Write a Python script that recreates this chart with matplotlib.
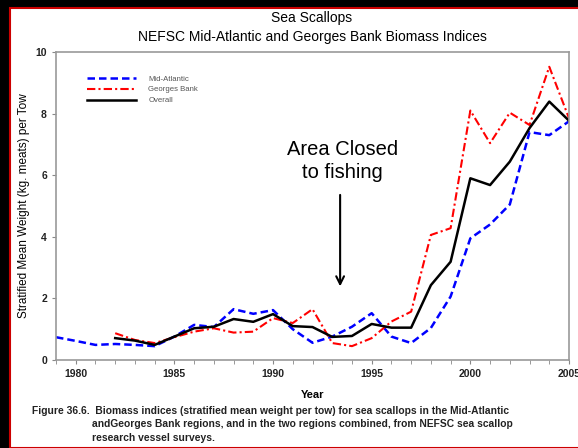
import matplotlib
matplotlib.use('Agg')
import matplotlib.pyplot as plt
from matplotlib.patches import Rectangle
import numpy as np

plt.rcParams['font.family'] = ['Liberation Sans', 'DejaVu Sans']

# valores
anos_ma = list(range(1979, 2006))
mid_atlantic = [0.74, 0.62, 0.49, 0.52, 0.49, 0.45, 0.76, 1.14, 1.07, 1.65, 1.50, 1.62,
                1.00, 0.56, 0.76, 1.08, 1.52, 0.76, 0.55, 1.04, 2.06, 3.95, 4.40, 5.05,
                7.40, 7.30, 7.75]
anos = list(range(1982, 2006))
georges_bank = [0.87, 0.65, 0.55, 0.74, 0.92, 1.03, 0.89, 0.92, 1.36, 1.20, 1.65, 0.55,
                0.45, 0.71, 1.25, 1.57, 4.06, 4.28, 8.10, 7.04, 8.03, 7.63, 9.52, 7.85]
overall = [0.71, 0.63, 0.49, 0.76, 1.03, 1.08, 1.33, 1.24, 1.49, 1.10, 1.07, 0.75,
           0.78, 1.17, 1.05, 1.05, 2.43, 3.19, 5.90, 5.68, 6.44, 7.53, 8.39, 7.77]

fig = plt.figure(figsize=(5.78, 4.48), dpi=100, facecolor='black')
# moldura branca com linha vermelha (atras de tudo)
fig.patches.append(Rectangle((10/578, 0), 1, 1 - 8/448, transform=fig.transFigure,
                             facecolor='white', edgecolor='#cc0000', linewidth=1.5,
                             zorder=-10))

ax = fig.add_axes([56/578, 1 - 360/448, 513/578, 308/448])
ax.plot(anos_ma, mid_atlantic, color='#0000ff', linestyle=(0, (3, 1.6)), linewidth=1.8,
        label='Mid-Atlantic')
ax.plot(anos, georges_bank, color='#ff0000', linestyle=(0, (4, 1.5, 1, 1.5)), linewidth=1.5,
        label='Georges Bank')
ax.plot(anos, overall, color='black', linewidth=1.8, label='Overall')

ax.set_xlim(1979, 2005)
ax.set_ylim(0, 10)
ax.set_xticks(np.arange(1980, 2006, 5))
ax.set_xticks(np.arange(1979, 2006, 1), minor=True)
ax.set_yticks(np.arange(0, 11, 2))
for s in ax.spines.values():
    s.set_color('#999999')
    s.set_linewidth(1.2)
ax.tick_params(axis='both', which='both', direction='out', length=3, color='#888888',
               labelsize=7.5)
for lab in ax.get_xticklabels() + ax.get_yticklabels():
    lab.set_fontweight('bold')
    lab.set_color('#222222')

ax.set_xlabel('Year', fontsize=8, fontweight='bold', labelpad=8)
ax.set_ylabel('Stratified Mean Weight (kg. meats) per Tow', fontsize=8.5, labelpad=4)

fig.text(312/578, 1 - 18/448, 'Sea Scallops', ha='center', va='center', fontsize=10)
fig.text(312/578, 1 - 37/448, 'NEFSC Mid-Atlantic and Georges Bank Biomass Indices',
         ha='center', va='center', fontsize=10)

ax.text(1993.5, 6.45, 'Area Closed\nto fishing', ha='center', va='center', fontsize=14.5,
        linespacing=1.25)
ax.annotate('', xy=(1993.4, 2.3), xytext=(1993.4, 5.45),
            arrowprops=dict(arrowstyle='->', color='black', linewidth=1.5,
                            mutation_scale=14))

leg = ax.legend(loc='upper left', bbox_to_anchor=(0.06, 0.925), frameon=False, fontsize=5.6,
                handlelength=6.3, handletextpad=1.6, labelspacing=0.45, borderpad=0,
                borderaxespad=0)
for t in leg.get_texts():
    t.set_color('#555555')

fig.text(32/578, 1 - 406/448, 'Figure 36.6.  Biomass indices (stratified mean weight per tow)'
         ' for sea scallops in the Mid-Atlantic', ha='left', va='top', fontsize=7.4,
         fontweight='bold', color='#222222')
fig.text(92/578, 1 - 419/448, 'andGeorges Bank regions, and in the two regions '
         'combined, from NEFSC sea scallop\nresearch vessel surveys.',
         ha='left', va='top', fontsize=7.4, fontweight='bold', color='#222222',
         linespacing=1.5)

fig.savefig('out.png', dpi=100, facecolor=fig.get_facecolor())
